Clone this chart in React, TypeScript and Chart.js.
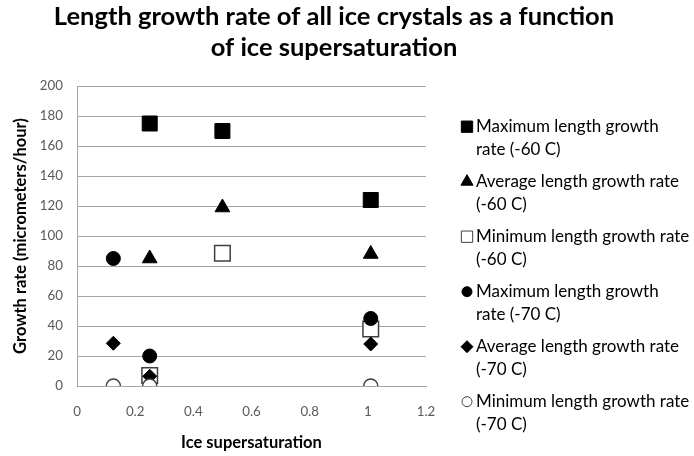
import React, { useEffect, useRef } from 'react';
import { Chart, registerables } from 'chart.js';
import { drawPoint } from 'chart.js/helpers';

Chart.register(...registerables);

const titleLines = ['Length growth rate of all ice crystals as a function', 'of ice supersaturation'];
const xAxisTitle = 'Ice supersaturation';
const yAxisTitle = 'Growth rate (micrometers/hour)';

const seriesLabels = [
  ['Maximum length growth', 'rate (-60 C)'],
  ['Average length growth rate', '(-60 C)'],
  ['Minimum length growth rate', '(-60 C)'],
  ['Maximum length growth', 'rate (-70 C)'],
  ['Average length growth rate', '(-70 C)'],
  ['Minimum length growth rate', '(-70 C)'],
];

const max60X = [0.25, 0.5, 1.01];
const max60Y = [175, 170, 124];
const avg60X = [0.25, 0.5, 1.01];
const avg60Y = [85, 119, 88];
const min60X = [0.25, 0.5, 1.01];
const min60Y = [7, 88.5, 38];
const max70X = [0.125, 0.25, 1.01];
const max70Y = [85, 20, 45];
const avg70X = [0.125, 0.25, 1.01];
const avg70Y = [28.5, 6.5, 28];
const min70X = [0.125, 0.25, 1.01];
const min70Y = [0, 0, 0];

const FONT = 'Lato';

const toPoints = (xs: number[], ys: number[]) => xs.map((x, i) => ({ x, y: ys[i] }));

const titlePlugin = {
  id: 'customTitle',
  afterDraw(chart: any) {
    const ctx = chart.ctx;
    ctx.save();
    ctx.font = `bold 25.5px ${FONT}`;
    ctx.fillStyle = '#000';
    ctx.textAlign = 'center';
    ctx.textBaseline = 'alphabetic';
    ctx.fillText(titleLines[0], 334, 25);
    ctx.fillText(titleLines[1], 334, 56);
    ctx.restore();
  },
};

const legendPlugin = {
  id: 'customLegend',
  afterDraw(chart: any) {
    const ctx = chart.ctx;
    ctx.save();
    ctx.font = `17px ${FONT}`;
    ctx.textBaseline = 'middle';
    ctx.textAlign = 'left';
    chart.data.datasets.forEach((ds: any, i: number) => {
      const y = 126.7 + i * 55;
      ctx.fillStyle = ds.backgroundColor;
      ctx.strokeStyle = ds.borderColor;
      ctx.lineWidth = 1;
      const st = ds.pointStyle;
      const r = st === 'rect' ? 8 : st === 'rectRot' ? 6 : st === 'triangle' ? 7 : 5;
      drawPoint(ctx, { pointStyle: st, radius: r, borderWidth: 1, rotation: 0 }, 467, y);
      ctx.fillStyle = '#000';
      const lines = seriesLabels[i];
      ctx.fillText(lines[0], 476, y);
      ctx.fillText(lines[1], 476, y + 23.3);
    });
    ctx.restore();
  },
};

export default function App() {
  const ref = useRef<HTMLCanvasElement | null>(null);
  useEffect(() => {
    if (!ref.current) return;
    const mk = (i: number, xs: number[], ys: number[], style: string, filled: boolean, radius: number) => ({
      label: seriesLabels[i].join(' '),
      data: toPoints(xs, ys),
      pointStyle: style,
      pointRadius: radius,
      pointHoverRadius: radius,
      backgroundColor: filled ? '#000000' : '#ffffff',
      borderColor: filled ? '#000000' : '#404040',
      pointBorderWidth: filled ? 1 : 1.5,
      showLine: false,
      order: -i,
    });
    const chart = new Chart(ref.current, {
      type: 'scatter',
      data: {
        datasets: [
          mk(0, max60X, max60Y, 'rect', true, 10.6),
          mk(1, avg60X, avg60Y, 'triangle', true, 8.5),
          mk(2, min60X, min60Y, 'rect', false, 11),
          mk(3, max70X, max70Y, 'circle', true, 7),
          mk(4, avg70X, avg70Y, 'rectRot', true, 7),
          mk(5, min70X, min70Y, 'circle', false, 7),
        ] as any,
      },
      options: {
        responsive: false,
        animation: false,
        layout: { padding: { left: 0, right: 268, top: 86, bottom: 0 } },
        plugins: {
          legend: { display: false },
          tooltip: { enabled: false },
          title: { display: false },
        },
        scales: {
          x: {
            type: 'linear',
            min: 0,
            max: 1.2,
            ticks: {
              stepSize: 0.2,
              color: '#595959',
              font: { family: FONT, size: 13.3 },
              padding: 18,
              callback: (v: any) => String(Math.round(Number(v) * 10) / 10),
            },
            grid: { display: false, drawTicks: false },
            border: { display: true, color: '#a6a6a6', width: 1 },
            title: {
              display: true,
              text: xAxisTitle,
              color: '#000',
              font: { family: FONT, size: 16.5, weight: 'bold' },
              padding: { top: 2, bottom: 3 },
            },
            afterFit: (s: any) => { s.height = 70; },
          },
          y: {
            type: 'linear',
            min: 0,
            max: 200,
            ticks: {
              stepSize: 20,
              color: '#595959',
              font: { family: FONT, size: 13.3 },
              padding: 14,
            },
            grid: { display: true, drawTicks: false, color: '#a6a6a6', lineWidth: 1 },
            border: { display: true, color: '#a6a6a6', width: 1 },
            title: {
              display: true,
              text: yAxisTitle,
              color: '#000',
              font: { family: FONT, size: 16.5, weight: 'bold' },
              padding: { top: 11, bottom: 2 },
            },
            afterFit: (s: any) => { s.width = 77; },
          },
        },
      } as any,
      plugins: [titlePlugin, legendPlugin],
    });
    return () => chart.destroy();
  }, []);
  return (
    <div style={{ position: 'absolute', left: 0, top: 0, width: 694, height: 456, background: '#fff' }}>
      <canvas ref={ref} width={694} height={456} />
    </div>
  );
}
